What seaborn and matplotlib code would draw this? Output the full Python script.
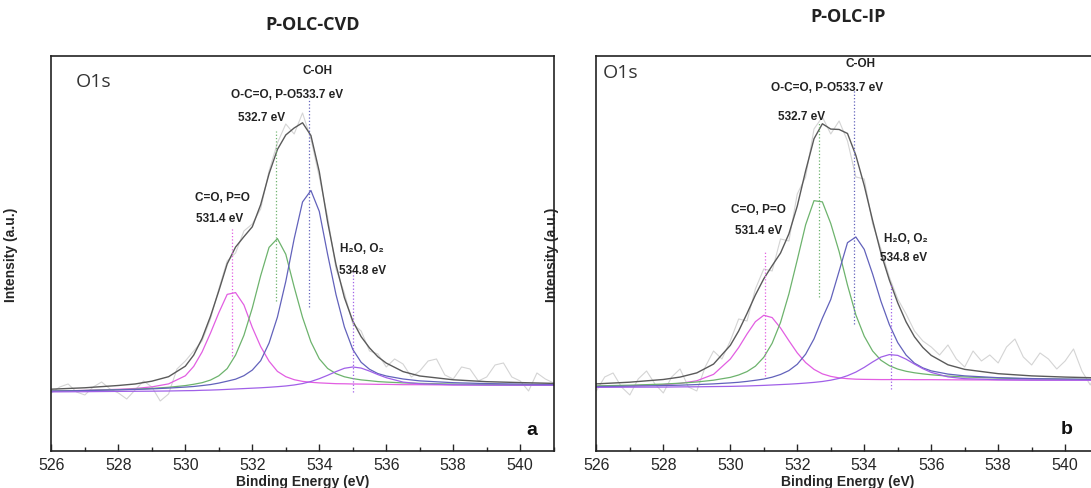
import numpy as np
import seaborn as sns
import matplotlib.pyplot as plt
from matplotlib.ticker import MultipleLocator

# binding energy grid of the fitted curves (eV)
energy = [526, 527, 528, 528.5, 529, 529.5, 530, 530.25, 530.5, 530.75,
          531, 531.25, 531.5, 531.75, 532, 532.25, 532.5, 532.75, 533, 533.25,
          533.5, 533.75, 534, 534.25, 534.5, 534.75, 535, 535.25, 535.5, 535.75,
          536, 536.5, 537, 538, 539, 540, 541]

# grid of the measured spectrum (eV)
raw_energy = [526.0, 526.25, 526.5, 526.75, 527.0, 527.25, 527.5, 527.75, 528.0, 528.25,
              528.5, 528.75, 529.0, 529.25, 529.5, 529.75, 530.0, 530.25, 530.5, 530.75,
              531.0, 531.25, 531.5, 531.75, 532.0, 532.25, 532.5, 532.75, 533.0, 533.25,
              533.5, 533.75, 534.0, 534.25, 534.5, 534.75, 535.0, 535.25, 535.5, 535.75,
              536.0, 536.25, 536.5, 536.75, 537.0, 537.25, 537.5, 537.75, 538.0, 538.25,
              538.5, 538.75, 539.0, 539.25, 539.5, 539.75, 540.0, 540.25, 540.5, 540.75,
              541.0]

# ---- P-OLC-CVD ----
cvd_base = [47.0, 47.2, 47.4, 47.5, 47.6, 47.8, 48.0, 48.1, 48.3, 48.5,
            48.8, 49.1, 49.4, 49.7, 50.0, 50.3, 50.6, 50.9, 51.2, 51.5,
            51.8, 52.1, 52.3, 52.5, 52.7, 52.9, 53.0, 53.1, 53.2, 53.2,
            53.3, 53.3, 53.4, 53.4, 53.5, 53.5, 53.5]
cvd_co = [0.9, 1.4, 2.3, 3.0, 4.5, 7.3, 15.2, 24.5, 38.7, 57.3,
          77.4, 95.5, 97.0, 84.3, 61.5, 42.1, 27.2, 16.7, 11.1, 7.8,
          5.8, 4.6, 3.8, 3.2, 2.6, 2.3, 2.0, 1.8, 1.6, 1.4,
          1.3, 1.0, 0.9, 0.6, 0.5, 0.4, 0.3]
cvd_oco = [0.9, 1.3, 1.9, 2.3, 3.0, 3.9, 5.4, 6.6, 8.0, 10.4,
           14.4, 21.3, 34.5, 54.0, 81.0, 113.0, 141.0, 149.5, 133.5, 100.5,
           69.8, 45.0, 27.9, 18.0, 12.6, 9.3, 7.4, 6.0, 5.1, 4.2,
           3.6, 2.8, 2.2, 1.5, 1.0, 0.8, 0.6]
cvd_coh = [0.9, 1.2, 1.7, 2.0, 2.5, 3.1, 3.9, 4.4, 5.1, 5.9,
           7.1, 8.7, 10.4, 13.6, 18.9, 28.0, 45.3, 71.0, 106.4, 148.7,
           185.2, 196.4, 175.3, 132.0, 91.6, 59.1, 36.6, 23.6, 16.5, 12.2,
           9.7, 6.7, 4.7, 2.9, 1.9, 1.4, 1.0]
cvd_h2o = [0.1, 0.1, 0.2, 0.2, 0.2, 0.2, 0.3, 0.3, 0.4, 0.4,
           0.4, 0.5, 0.6, 0.7, 0.8, 0.9, 1.1, 1.4, 1.8, 2.5,
           3.6, 5.4, 8.0, 11.2, 14.7, 17.8, 19.0, 17.8, 14.7, 11.2,
           8.0, 3.6, 1.8, 0.8, 0.4, 0.3, 0.2]
cvd_raw = [46, 52, 55, 47, 44, 52, 57, 50, 46, 40,
           49, 58, 52, 38, 45, 70, 78, 88, 98, 120,
           150, 178, 186, 208, 215, 230, 268, 296, 315, 305,
           326, 300, 262, 222, 170, 146, 115, 108, 88, 85,
           72, 80, 75, 62, 68, 78, 80, 64, 60, 72,
           70, 58, 62, 74, 76, 62, 58, 48, 66, 60,
           56]
cvd_peak = [531.4, 532.7, 533.7, 535.0]
cvd_mark_top = [212, 308, 341, 167]
cvd_mark_bot = [83, 138, 132, 47]

# ---- P-OLC-IP ----
ip_base = [51.5, 51.6, 51.7, 51.8, 51.9, 52.0, 52.2, 52.3, 52.5, 52.7,
           52.9, 53.2, 53.5, 53.8, 54.1, 54.4, 54.8, 55.1, 55.5, 55.8,
           56.1, 56.4, 56.7, 57.0, 57.3, 57.5, 57.7, 57.9, 58.0, 58.1,
           58.2, 58.3, 58.3, 58.4, 58.4, 58.5, 58.5]
ip_co = [1.0, 1.6, 2.7, 3.8, 6.3, 12.6, 27.7, 39.1, 52.5, 64.6,
         70.8, 68.2, 57.5, 44.5, 32.0, 22.0, 14.8, 10.0, 7.1, 5.3,
         4.2, 3.4, 2.9, 2.5, 2.1, 1.9, 1.7, 1.5, 1.3, 1.2,
         1.1, 0.9, 0.8, 0.6, 0.4, 0.3, 0.3]
ip_oco = [1.6, 2.2, 3.2, 4.0, 5.1, 6.8, 9.4, 11.7, 14.9, 20.1,
          28.8, 42.5, 63.0, 91.2, 125.0, 159.8, 183.5, 182.0, 160.0, 131.6,
          97.8, 67.7, 46.1, 31.0, 21.4, 15.8, 12.2, 9.8, 8.2, 7.0,
          6.0, 4.6, 3.7, 2.5, 1.7, 1.3, 1.0]
ip_coh = [0.9, 1.2, 1.7, 2.0, 2.5, 3.1, 3.9, 4.4, 5.1, 6.0,
          7.0, 8.6, 11.0, 14.6, 20.6, 30.4, 45.3, 65.7, 84.0, 112.0,
          140.2, 145.6, 132.9, 108.0, 80.3, 56.9, 38.7, 26.0, 17.8, 13.0,
          9.9, 6.6, 4.8, 2.9, 2.0, 1.4, 1.0]
ip_h2o = [0.1, 0.2, 0.2, 0.3, 0.3, 0.4, 0.4, 0.5, 0.5, 0.6,
          0.7, 0.8, 0.9, 1.0, 1.2, 1.5, 1.8, 2.4, 3.3, 4.8,
          7.2, 10.5, 14.9, 20.0, 24.6, 26.9, 25.9, 21.9, 16.9, 12.2,
          8.4, 3.8, 2.0, 0.9, 0.6, 0.4, 0.3]
ip_raw = [48, 62, 66, 52, 44, 60, 68, 55, 46, 62,
          70, 52, 48, 72, 88, 80, 98, 120, 118, 150,
          170, 168, 200, 198, 245, 262, 310, 322, 305, 318,
          298, 262, 260, 215, 190, 162, 140, 125, 108, 98,
          92, 84, 94, 80, 72, 88, 78, 84, 76, 92,
          100, 82, 74, 86, 80, 70, 78, 90, 68, 54,
          72]
ip_peak = [531.05, 532.65, 533.7, 534.8]
ip_mark_top = [188, 317, 350, 155]
ip_mark_bot = [63, 142, 115, 50]

comp_colors = ["#e25ee2", "#6db36d", "#6262bb", "#a060e8"]

sns.set_style("white")
plt.rcParams["font.family"] = ["Liberation Sans", "DejaVu Sans"]

fig = plt.figure(figsize=(10.91, 4.89), dpi=100)
ax_cvd = fig.add_axes([0.0471, 0.0757, 0.4604, 0.8078])
ax_ip = fig.add_axes([0.5466, 0.0757, 0.4604, 0.8078])


def draw_panel(ax, base, comps, raw, peaks, tops, bots):
    sns.lineplot(x=raw_energy, y=raw, ax=ax, color="#d4d4d4", linewidth=0.8,
                 estimator=None)
    base = np.array(base)
    total = base.copy()
    for vals, col in zip(comps, comp_colors):
        total = total + np.array(vals)
        sns.lineplot(x=energy, y=base + np.array(vals), ax=ax, color=col,
                     linewidth=0.9, estimator=None)
    sns.lineplot(x=energy, y=total, ax=ax, color="#5a5a5a", linewidth=1.0,
                 estimator=None)
    ax.vlines(peaks, bots, tops, colors=comp_colors, linestyles=":", linewidth=0.9)

    ax.set_xlim(526, 541)
    ax.set_ylim(-12, 383)
    ax.xaxis.set_major_locator(MultipleLocator(2))
    ax.xaxis.set_minor_locator(MultipleLocator(1))
    ax.tick_params(axis="x", which="major", direction="in", length=5, width=1,
                   labelsize=11.5, pad=4, bottom=True, top=False)
    ax.tick_params(axis="x", which="minor", direction="in", length=3, width=1,
                   bottom=True, top=False)
    ax.tick_params(axis="y", left=False, labelleft=False)
    ax.set_yticks([])
    for s in ax.spines.values():
        s.set_linewidth(1.2)
        s.set_color("#222222")
    ax.set_xlabel("Binding Energy (eV)", fontsize=10, fontweight="bold", labelpad=2)
    ax.set_ylabel("Intensity (a.u.)", fontsize=10, fontweight="bold")


draw_panel(ax_cvd, cvd_base, [cvd_co, cvd_oco, cvd_coh, cvd_h2o], cvd_raw,
           cvd_peak, cvd_mark_top, cvd_mark_bot)
draw_panel(ax_ip, ip_base, [ip_co, ip_oco, ip_coh, ip_h2o], ip_raw,
           ip_peak, ip_mark_top, ip_mark_bot)
ax_cvd.yaxis.set_label_coords(-0.066, 0.5)
ax_ip.yaxis.set_label_coords(-0.075, 0.5)

lab = dict(fontsize=8.5, fontweight="bold", color="#222222")

# left panel labels
ax_cvd.text(533.96, 369, "C-OH", ha="center", va="center", **lab)
ax_cvd.text(533.30, 345, "O-C=O, P-O", ha="right", va="center", **lab)
ax_cvd.text(533.30, 345, "533.7 eV", ha="left", va="center", **lab)
ax_cvd.text(532.29, 322, "532.7 eV", ha="center", va="center", **lab)
ax_cvd.text(531.11, 242, "C=O, P=O", ha="center", va="center", **lab)
ax_cvd.text(531.03, 221, "531.4 eV", ha="center", va="center", **lab)
ax_cvd.text(535.26, 191, "H\u2082O, O\u2082", ha="center", va="center", **lab)
ax_cvd.text(535.30, 169, "534.8 eV", ha="center", va="center", **lab)
ax_cvd.text(526.73, 358, "O1s", ha="left", va="center", fontsize=14,
            family="Open Sans", color="#333333")
ax_cvd.text(540.35, 9, "a", ha="center", va="center", fontsize=14,
            fontweight="bold", color="#111111")

# right panel labels
ax_ip.text(533.88, 376, "C-OH", ha="center", va="center", **lab)
ax_ip.text(533.15, 352, "O-C=O, P-O", ha="right", va="center", **lab)
ax_ip.text(533.15, 352, "533.7 eV", ha="left", va="center", **lab)
ax_ip.text(532.12, 323, "532.7 eV", ha="center", va="center", **lab)
ax_ip.text(530.84, 230, "C=O, P=O", ha="center", va="center", **lab)
ax_ip.text(530.84, 209, "531.4 eV", ha="center", va="center", **lab)
ax_ip.text(535.24, 201, "H\u2082O, O\u2082", ha="center", va="center", **lab)
ax_ip.text(535.18, 182, "534.8 eV", ha="center", va="center", **lab)
ax_ip.text(526.2, 367, "O1s", ha="left", va="center", fontsize=14,
           family="Open Sans", color="#333333")
ax_ip.text(540.05, 10, "b", ha="center", va="center", fontsize=14,
           fontweight="bold", color="#111111")

fig.text(0.287, 0.949, "P-OLC-CVD", ha="center", va="center", fontsize=13,
         fontweight="bold", family="Open Sans", color="#222222")
fig.text(0.777, 0.965, "P-OLC-IP", ha="center", va="center", fontsize=13,
         fontweight="bold", family="Open Sans", color="#222222")

fig.savefig("out.png", dpi=100)
